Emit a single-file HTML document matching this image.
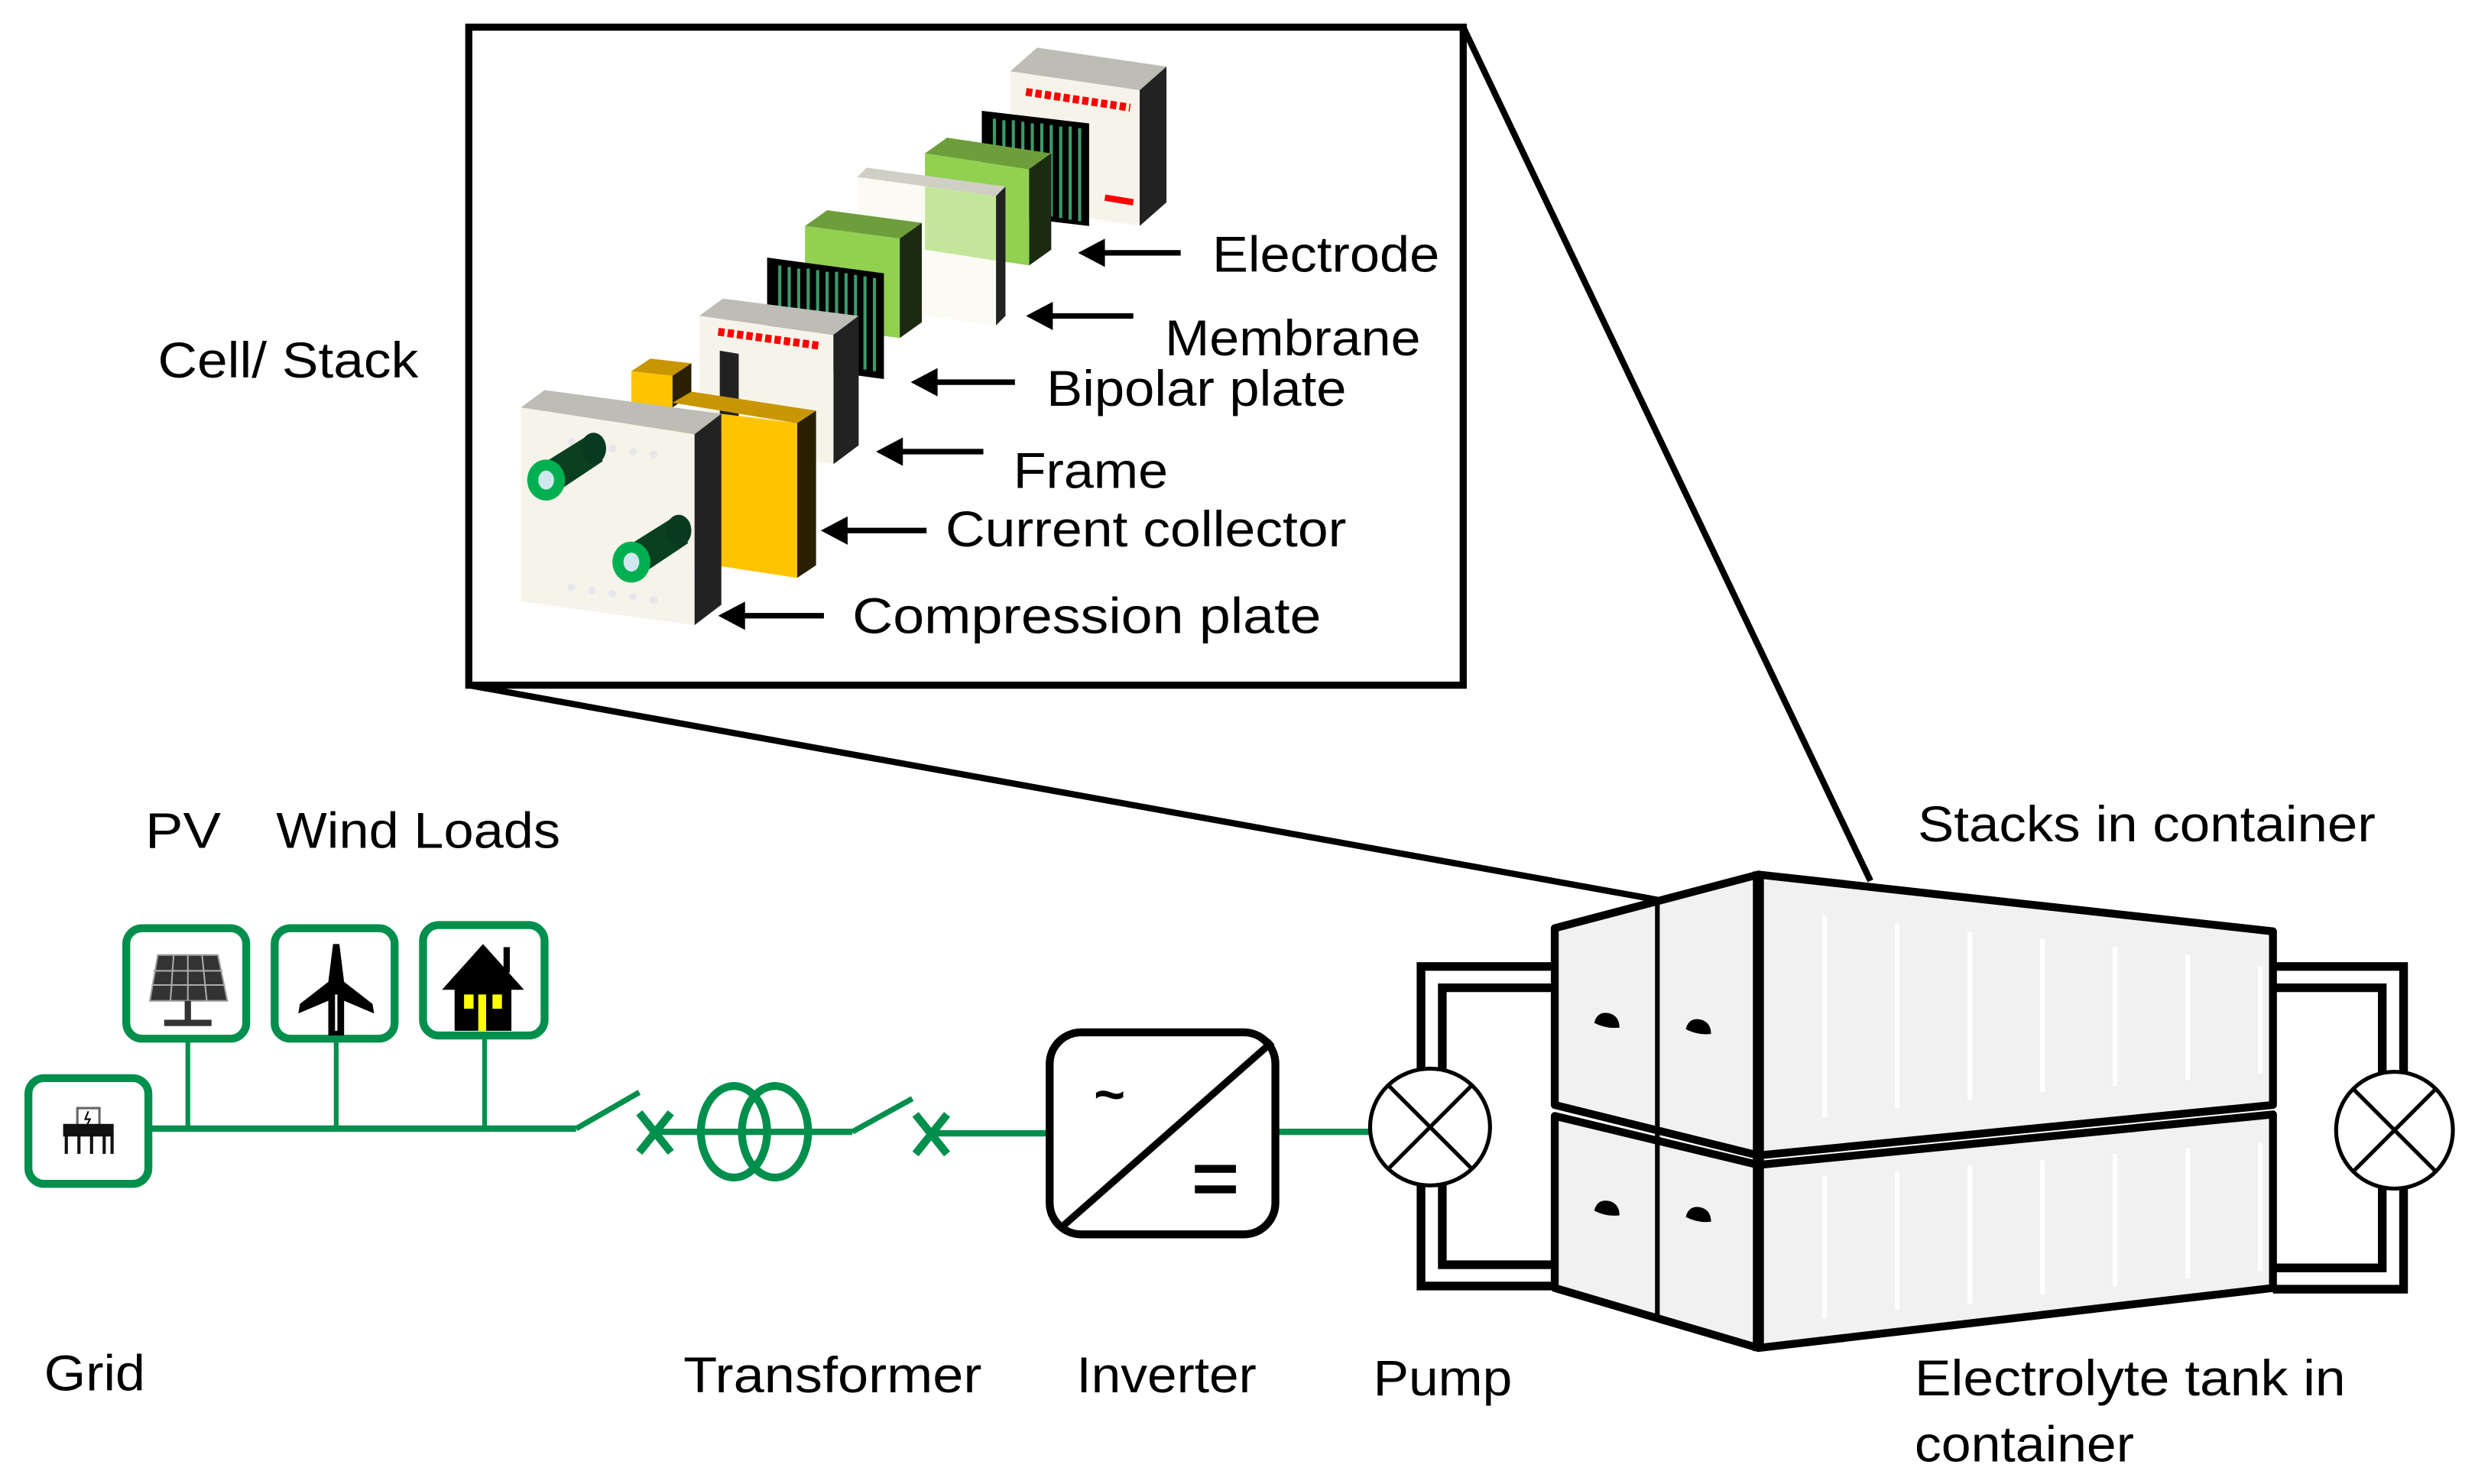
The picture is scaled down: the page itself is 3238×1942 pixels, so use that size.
<!DOCTYPE html>
<html><head><meta charset="utf-8"><style>
html,body{margin:0;padding:0;background:#fff}
svg{display:block}
text{font-family:"Liberation Sans",Arial,sans-serif;font-size:32px;fill:#000}
</style></head><body>
<svg width="3238" height="1942" viewBox="0 0 1568 940" xmlns="http://www.w3.org/2000/svg">
<rect width="1568" height="940" fill="#fff"/>
<line x1="297" y1="434" x2="1050" y2="570" stroke="#000" stroke-width="4"/>
<line x1="927" y1="17" x2="1185" y2="558" stroke="#000" stroke-width="4"/>
<rect x="297" y="17" width="630" height="417" fill="#fff" stroke="#000" stroke-width="4.5"/>

<polygon points="640,45 657,30 739,42 722,57" fill="#bdbdb5"/>
<polygon points="722,57 739,42 739,128 722,143" fill="#222"/>
<polygon points="640,45 722,57 722,143 640,131" fill="#f6f4ea"/>
<line x1="650" y1="58" x2="716" y2="68" stroke="#f00" stroke-width="5" stroke-dasharray="4 2"/>
<line x1="700" y1="125" x2="718" y2="128" stroke="#f00" stroke-width="4"/>
<polygon points="622,70 690,78 690,143 622,135" fill="#000"/>
<g stroke="#3a9a6a" stroke-width="2">
<line x1="630" y1="75" x2="630" y2="132"/><line x1="636" y1="76" x2="636" y2="133"/><line x1="642" y1="76" x2="642" y2="134"/><line x1="648" y1="77" x2="648" y2="135"/><line x1="654" y1="78" x2="654" y2="136"/><line x1="660" y1="78" x2="660" y2="137"/><line x1="666" y1="79" x2="666" y2="137"/><line x1="672" y1="80" x2="672" y2="138"/><line x1="678" y1="80" x2="678" y2="139"/><line x1="684" y1="81" x2="684" y2="140"/>
</g>
<polygon points="586,97 600,87 666,97 652,107" fill="#6e9e3c"/>
<polygon points="652,107 666,97 666,158 652,168" fill="#1b2a10"/>
<polygon points="586,97 652,107 652,168 586,158" fill="#92d050"/>
<polygon points="543,112 549,106 637,118 631,124" fill="#cfcfc5"/>
<polygon points="631,124 637,118 637,200 631,206" fill="#222"/>
<polygon points="543,112 631,124 631,206 543,194" fill="#fbfbf3"/>
<polygon points="586,118 631,124 631,165 586,158" fill="#9ed860" opacity="0.6"/>
<polygon points="510,143 524,133 584,141 570,151" fill="#6e9e3c"/>
<polygon points="570,151 584,141 584,204 570,214" fill="#1b2a10"/>
<polygon points="510,143 570,151 570,214 510,206" fill="#92d050"/>
<polygon points="486,163 560,173 560,240 486,230" fill="#000"/>
<g stroke="#3a9a6a" stroke-width="2">
<line x1="494" y1="168" x2="494" y2="226"/><line x1="500" y1="169" x2="500" y2="227"/><line x1="506" y1="170" x2="506" y2="228"/><line x1="512" y1="170" x2="512" y2="229"/><line x1="518" y1="171" x2="518" y2="229"/><line x1="524" y1="172" x2="524" y2="230"/><line x1="530" y1="172" x2="530" y2="231"/><line x1="536" y1="173" x2="536" y2="232"/><line x1="542" y1="174" x2="542" y2="233"/><line x1="548" y1="175" x2="548" y2="234"/><line x1="554" y1="176" x2="554" y2="235"/>
</g>
<polygon points="443,200 458,189 544,200 528,212" fill="#bdbdb5"/>
<polygon points="528,212 544,200 544,282 528,294" fill="#222"/>
<polygon points="443,200 528,212 528,294 443,282" fill="#f6f4ea"/>
<polygon points="456,222 468,224 468,286 456,284" fill="#222"/>
<line x1="455" y1="210" x2="520" y2="219" stroke="#f00" stroke-width="5" stroke-dasharray="4 2"/>
<polygon points="400,235 412,227 438,230 426,238" fill="#c89600"/>
<polygon points="426,238 438,230 438,250 426,258" fill="#2a2000"/>
<polygon points="400,235 426,238 426,262 400,262" fill="#ffc400"/>
<polygon points="426,255 438,248 517,260 505,268" fill="#c89600"/>
<polygon points="505,268 517,260 517,358 505,366" fill="#2a2000"/>
<polygon points="400,255 505,268 505,366 400,350" fill="#ffc400"/>
<polygon points="330,258 345,247 457,262 440,275" fill="#bdbdb5"/>
<polygon points="440,275 457,262 457,383 440,396" fill="#222"/>
<polygon points="330,258 440,275 440,396 330,381" fill="#f6f4ea"/>
<g fill="#e6e6ec">
<circle cx="362" cy="280" r="2.5"/><circle cx="375" cy="282" r="2.5"/><circle cx="388" cy="284" r="2.5"/><circle cx="401" cy="286" r="2.5"/><circle cx="414" cy="288" r="2.5"/>
<circle cx="362" cy="372" r="2.5"/><circle cx="375" cy="374" r="2.5"/><circle cx="388" cy="376" r="2.5"/><circle cx="401" cy="378" r="2.5"/><circle cx="414" cy="380" r="2.5"/>
</g>
<polygon points="340,296 372,276 382,292 352,312" fill="#0a4020"/>
<ellipse cx="376" cy="284" rx="8" ry="10" fill="#0a3a1e"/>
<ellipse cx="346" cy="304" rx="12" ry="13" fill="#00b050"/>
<ellipse cx="346" cy="304" rx="5" ry="6" fill="#cfe8f0"/>
<polygon points="394,348 426,328 436,344 406,364" fill="#0a4020"/>
<ellipse cx="430" cy="336" rx="8" ry="10" fill="#0a3a1e"/>
<ellipse cx="400" cy="356" rx="12" ry="13" fill="#00b050"/>
<ellipse cx="400" cy="356" rx="5" ry="6" fill="#cfe8f0"/>

<g stroke="#000" stroke-width="3.5" fill="#000">
<line x1="748" y1="160" x2="695" y2="160"/><polygon points="683,160 700,151 700,169" stroke="none"/>
<line x1="718" y1="200" x2="662" y2="200"/><polygon points="650,200 667,191 667,209" stroke="none"/>
<line x1="643" y1="242" x2="589" y2="242"/><polygon points="577,242 594,233 594,251" stroke="none"/>
<line x1="623" y1="286" x2="567" y2="286"/><polygon points="555,286 572,277 572,295" stroke="none"/>
<line x1="587" y1="336" x2="532" y2="336"/><polygon points="520,336 537,327 537,345" stroke="none"/>
<line x1="522" y1="390" x2="467" y2="390"/><polygon points="455,390 472,381 472,399" stroke="none"/>
</g>
<text x="768" y="172" textLength="144" lengthAdjust="spacingAndGlyphs">Electrode</text>
<text x="738" y="225" textLength="162" lengthAdjust="spacingAndGlyphs">Membrane</text>
<text x="663" y="257" textLength="190" lengthAdjust="spacingAndGlyphs">Bipolar plate</text>
<text x="642" y="309" textLength="98" lengthAdjust="spacingAndGlyphs">Frame</text>
<text x="599" y="346" textLength="254" lengthAdjust="spacingAndGlyphs">Current collector</text>
<text x="540" y="401" textLength="297" lengthAdjust="spacingAndGlyphs">Compression plate</text>
<text x="100" y="239" textLength="165" lengthAdjust="spacingAndGlyphs">Cell/ Stack</text>

<text x="92" y="537" textLength="48" lengthAdjust="spacingAndGlyphs">PV</text>
<text x="175" y="537" textLength="180" lengthAdjust="spacingAndGlyphs">Wind Loads</text>
<text x="1215" y="533" textLength="290" lengthAdjust="spacingAndGlyphs">Stacks in container</text>
<text x="28" y="881" textLength="64" lengthAdjust="spacingAndGlyphs">Grid</text>
<text x="433" y="882" textLength="189" lengthAdjust="spacingAndGlyphs">Transformer</text>
<text x="682" y="882" textLength="114" lengthAdjust="spacingAndGlyphs">Inverter</text>
<text x="870" y="884" textLength="88" lengthAdjust="spacingAndGlyphs">Pump</text>
<text x="1213" y="884" textLength="273" lengthAdjust="spacingAndGlyphs">Electrolyte tank in</text>
<text x="1213" y="926" textLength="139" lengthAdjust="spacingAndGlyphs">container</text>

<g stroke="#008f4c" fill="none">
<line x1="94" y1="715" x2="365" y2="715" stroke-width="4"/>
<line x1="119" y1="658" x2="119" y2="715" stroke-width="3"/>
<line x1="213" y1="658" x2="213" y2="715" stroke-width="3"/>
<line x1="307" y1="656" x2="307" y2="715" stroke-width="3"/>
<line x1="365" y1="715" x2="405" y2="692" stroke-width="3.5"/>
<line x1="415" y1="717" x2="540" y2="717" stroke-width="4"/>
<line x1="540" y1="717" x2="578" y2="696" stroke-width="3.5"/>
<line x1="590" y1="718" x2="663" y2="718" stroke-width="4"/>
<line x1="808" y1="717" x2="868" y2="717" stroke-width="4"/>
<g stroke-width="5"><line x1="405" y1="705" x2="425" y2="730"/><line x1="425" y1="705" x2="405" y2="730"/>
<line x1="580" y1="706" x2="600" y2="731"/><line x1="600" y1="706" x2="580" y2="731"/></g>
<ellipse cx="465" cy="717" rx="21" ry="29" stroke-width="5"/>
<ellipse cx="491" cy="717" rx="21" ry="29" stroke-width="5"/>
<rect x="18" y="683" width="76" height="67" rx="10" stroke-width="5" fill="#fff"/>
<rect x="80" y="588" width="76" height="70" rx="10" stroke-width="5" fill="#fff"/>
<rect x="174" y="588" width="76" height="70" rx="10" stroke-width="5" fill="#fff"/>
<rect x="268" y="586" width="77" height="70" rx="10" stroke-width="5" fill="#fff"/>
</g>
<rect x="49" y="702" width="14" height="12" fill="#fff" stroke="#666" stroke-width="1.5"/>
<path d="M56,704 l-2,5 h3 l-2,4" stroke="#000" stroke-width="1" fill="none"/>
<rect x="40" y="712" width="32" height="8" fill="#111"/>
<g stroke="#111" stroke-width="2"><line x1="42" y1="718" x2="42" y2="731"/><line x1="50" y1="718" x2="50" y2="731"/><line x1="58" y1="718" x2="58" y2="731"/><line x1="66" y1="718" x2="66" y2="731"/><line x1="71" y1="718" x2="71" y2="731"/></g>
<polygon points="95,634 100,605 138,605 144,634" fill="#333" stroke="#999" stroke-width="1"/>
<g stroke="#aaa" stroke-width="1"><line x1="97" y1="615" x2="141" y2="615"/><line x1="96" y1="624" x2="142" y2="624"/><line x1="110" y1="605" x2="108" y2="634"/><line x1="119" y1="605" x2="119" y2="634"/><line x1="128" y1="605" x2="131" y2="634"/></g>
<rect x="117" y="634" width="4" height="14" fill="#333"/><rect x="104" y="646" width="30" height="4" fill="#333"/>
<!-- wind icon -->
<path d="M211,598 L215,598 L218,622 L236,636 L237,642 L218,634 L218,656 L208,656 L208,634 L189,642 L190,636 L208,622 Z" fill="#000"/>
<line x1="213" y1="630" x2="213" y2="653" stroke="#fff" stroke-width="1.5"/>
<polygon points="280,627 306,598 332,627" fill="#000"/>
<rect x="288" y="625" width="36" height="28" fill="#000"/>
<rect x="319" y="600" width="4" height="16" fill="#000"/>
<rect x="294" y="630" width="6" height="9" fill="#ff0"/><rect x="312" y="630" width="6" height="9" fill="#ff0"/><rect x="303" y="630" width="5" height="23" fill="#ff0"/>
<rect x="665" y="654" width="143" height="128" rx="20" fill="#fff" stroke="#000" stroke-width="5"/>
<line x1="672" y1="778" x2="806" y2="660" stroke="#000" stroke-width="4.5"/>
<text x="693" y="705" style="font-size:34px;font-weight:bold">~</text>
<rect x="757" y="738" width="26" height="5" fill="#000"/><rect x="757" y="751" width="26" height="5" fill="#000"/>

<g fill="none" stroke-linejoin="miter">
<path d="M985,619 H907 V678 M907,750 V808 H985 M1440,619 H1516 V680 M1516,752 V810 H1440" stroke="#000" stroke-width="19"/>
<path d="M985,619 H907 V678 M907,750 V808 H985 M1440,619 H1516 V680 M1516,752 V810 H1440" stroke="#fff" stroke-width="8"/>
</g>
<g fill="#fff" stroke="#000" stroke-width="2.5">
<ellipse cx="906" cy="714" rx="38" ry="37"/>
<line x1="880" y1="688" x2="932" y2="740"/><line x1="932" y1="688" x2="880" y2="740"/>
<ellipse cx="1517" cy="716" rx="37" ry="37"/>
<line x1="1491" y1="690" x2="1543" y2="742"/><line x1="1543" y1="690" x2="1491" y2="742"/>
</g>
<g stroke="#000" stroke-width="5" stroke-linejoin="round" fill="#f1f1f1">
<polygon points="985,707 1114,738 1114,854 985,816"/>
<polygon points="1114,738 1440,706 1440,816 1114,854"/>
<polygon points="985,588 1114,554 1114,732 985,700"/>
<polygon points="1114,554 1440,590 1440,700 1114,732"/>
</g>
<line x1="1114" y1="552" x2="1114" y2="856" stroke="#000" stroke-width="7"/>
<line x1="1050" y1="570" x2="1050" y2="834" stroke="#000" stroke-width="3"/>
<g stroke="#fff" stroke-width="3">
<line x1="1156" y1="580" x2="1156" y2="708"/><line x1="1202" y1="585" x2="1202" y2="702"/><line x1="1248" y1="590" x2="1248" y2="697"/><line x1="1294" y1="595" x2="1294" y2="692"/><line x1="1340" y1="600" x2="1340" y2="688"/><line x1="1386" y1="605" x2="1386" y2="684"/><line x1="1432" y1="612" x2="1432" y2="680"/>
<line x1="1156" y1="745" x2="1156" y2="835"/><line x1="1202" y1="742" x2="1202" y2="830"/><line x1="1248" y1="738" x2="1248" y2="826"/><line x1="1294" y1="735" x2="1294" y2="820"/><line x1="1340" y1="731" x2="1340" y2="815"/><line x1="1386" y1="727" x2="1386" y2="810"/><line x1="1432" y1="724" x2="1432" y2="805"/>
</g>
<g fill="#000">
<path d="M1010,648 q2,-8 10,-6 q6,2 6,9 q-8,1 -16,-3z"/>
<path d="M1068,652 q2,-8 10,-6 q6,2 6,9 q-8,1 -16,-3z"/>
<path d="M1010,767 q2,-8 10,-6 q6,2 6,9 q-8,1 -16,-3z"/>
<path d="M1068,771 q2,-8 10,-6 q6,2 6,9 q-8,1 -16,-3z"/>
</g>
</svg>
</body></html>
